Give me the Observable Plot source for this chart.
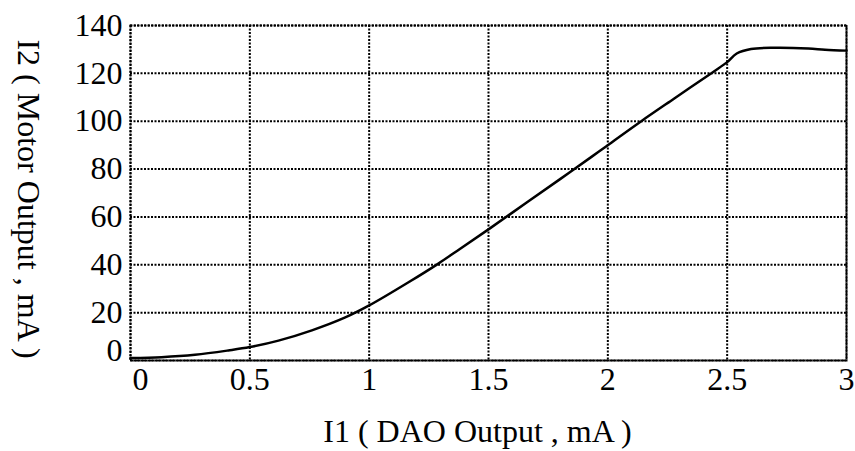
<!DOCTYPE html>
<html>
<head>
<meta charset="utf-8">
<script src="https://cdn.jsdelivr.net/npm/d3@7"></script>
<script src="https://cdn.jsdelivr.net/npm/@observablehq/plot@0.6"></script>
<style>
  html, body { margin: 0; padding: 0; background: #fff; }
</style>
</head>
<body>
<div id="chart"></div>
<script>
// I1 (DAO output, mA) vs I2 (motor output, mA)
const i1 = [0, 0.13, 0.27, 0.41, 0.5, 0.62, 0.76, 0.9, 1.0, 1.17, 1.29, 1.38, 1.5, 1.66, 1.8, 1.93, 2.0, 2.14, 2.28, 2.44, 2.5, 2.54, 2.6, 2.7, 2.84, 2.91, 3.0];
const i2 = [1.0, 1.4, 2.4, 4.2, 5.6, 8.3, 12.6, 18.0, 23.0, 33.0, 40.5, 46.6, 54.8, 66.0, 75.8, 85.0, 90.0, 100.0, 109.6, 120.5, 124.7, 128.3, 130.2, 130.7, 130.4, 129.9, 129.5];
const xTicks = [0, 0.5, 1, 1.5, 2, 2.5, 3];
const yTicks = [0, 20, 40, 60, 80, 100, 120, 140];
const xLabel = "I1 ( DAO Output , mA )";
const yLabel = "I2 ( Motor Output , mA )";

const data = i1.map((x, k) => ({x, y: i2[k]}));
const dotted = {stroke: "black", strokeOpacity: 1, strokeWidth: 2, strokeDasharray: "2,1.5"};
const fmt = d => String(d);
const serif = "Liberation Serif";
const fs = 32;

const chart = Plot.plot({
  width: 855,
  height: 451,
  marginLeft: 130,
  marginRight: 9,
  marginTop: 25,
  marginBottom: 91,
  style: {fontFamily: serif, fontSize: fs + "px", color: "black", background: "white"},
  x: {domain: [0, 3]},
  y: {domain: [0, 140]},
  marks: [
    Plot.gridX(xTicks, dotted),
    Plot.gridY(yTicks, dotted),
    Plot.frame(dotted),
    Plot.axisX(xTicks.filter(d => d !== 0), {tickSize: 0, tickPadding: 7, label: null, fontSize: fs, tickFormat: fmt}),
    Plot.axisX([0], {tickSize: 0, tickPadding: 7, dx: 10, label: null, fontSize: fs, tickFormat: fmt}),
    Plot.axisY(yTicks.filter(d => d !== 0), {tickSize: 0, tickPadding: 8, label: null, fontSize: fs, tickFormat: fmt}),
    Plot.axisY([0], {tickSize: 0, tickPadding: 8, dy: -10, label: null, fontSize: fs, tickFormat: fmt}),
    Plot.line(data, {x: "x", y: "y", curve: "catmull-rom", stroke: "black", strokeWidth: 2.5}),
    Plot.text([xLabel], {frameAnchor: "bottom", lineAnchor: "bottom", textAnchor: "middle", dy: 81, dx: -11, fontSize: fs}),
    Plot.text([yLabel], {frameAnchor: "left", textAnchor: "middle", rotate: 90, dx: -102, dy: 6, fontSize: fs})
  ]
});
d3.select(chart).selectAll("text").style("font-family", serif);
document.getElementById("chart").appendChild(chart);
</script>
</body>
</html>
